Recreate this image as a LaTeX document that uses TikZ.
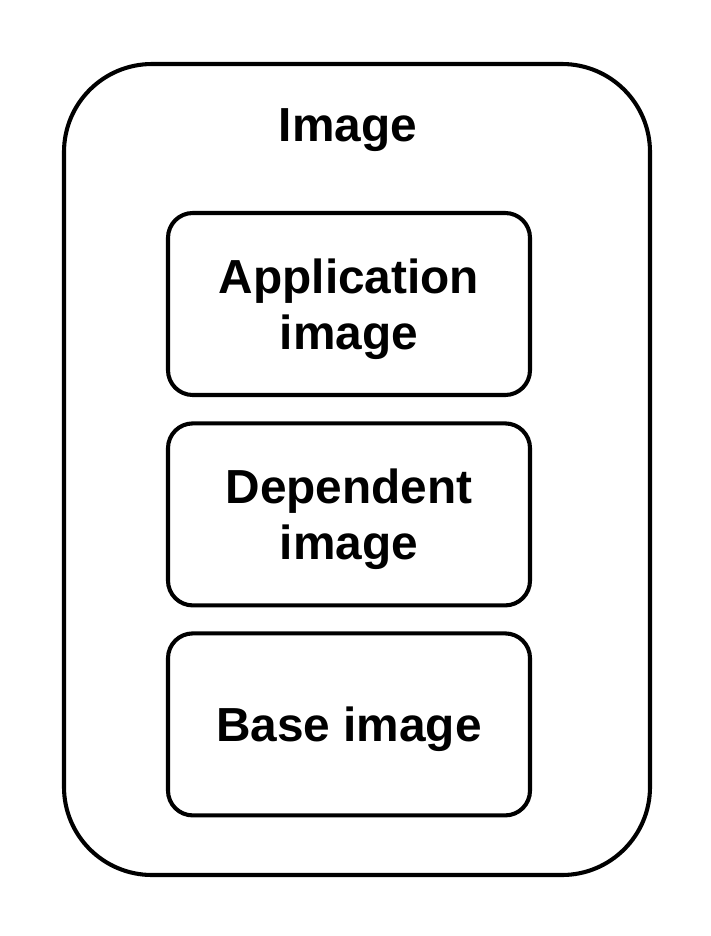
\documentclass[tikz,border=0pt]{standalone}
\usepackage{fontspec}
\setmainfont{Liberation Sans}
\usetikzlibrary{positioning}

\begin{document}
\begin{tikzpicture}[
    frame/.style={
        rectangle, rounded corners=2.2cm, draw=black, line width=2.9pt,
        minimum width=14.65cm, minimum height=20.275cm
    },
    layer/.style={
        rectangle, rounded corners=0.62cm, draw=black, line width=2.9pt,
        minimum width=9.05cm, minimum height=4.55cm, align=center,
        text depth=0pt, font=\fontsize{34}{40}\selectfont\bfseries
    },
    title/.style={text depth=0pt, font=\fontsize{34}{40}\selectfont\bfseries}
]
\useasboundingbox (0,0) rectangle (17.775,-23.4);

% ---------------- Outer image ----------------
\node[frame] (image) at (8.925,-11.7375) {};
\node[title] (imgtitle) at (8.7,-3.125) {Image};

% ---------------- Layers ----------------
\node[layer] (app)  at (8.725,-7.6)   {Application\\image};
\node[layer] (dep)  at (8.725,-12.86) {Dependent\\image};
\node[layer] (base) at (8.725,-18.11) {Base image};

\end{tikzpicture}
\end{document}
